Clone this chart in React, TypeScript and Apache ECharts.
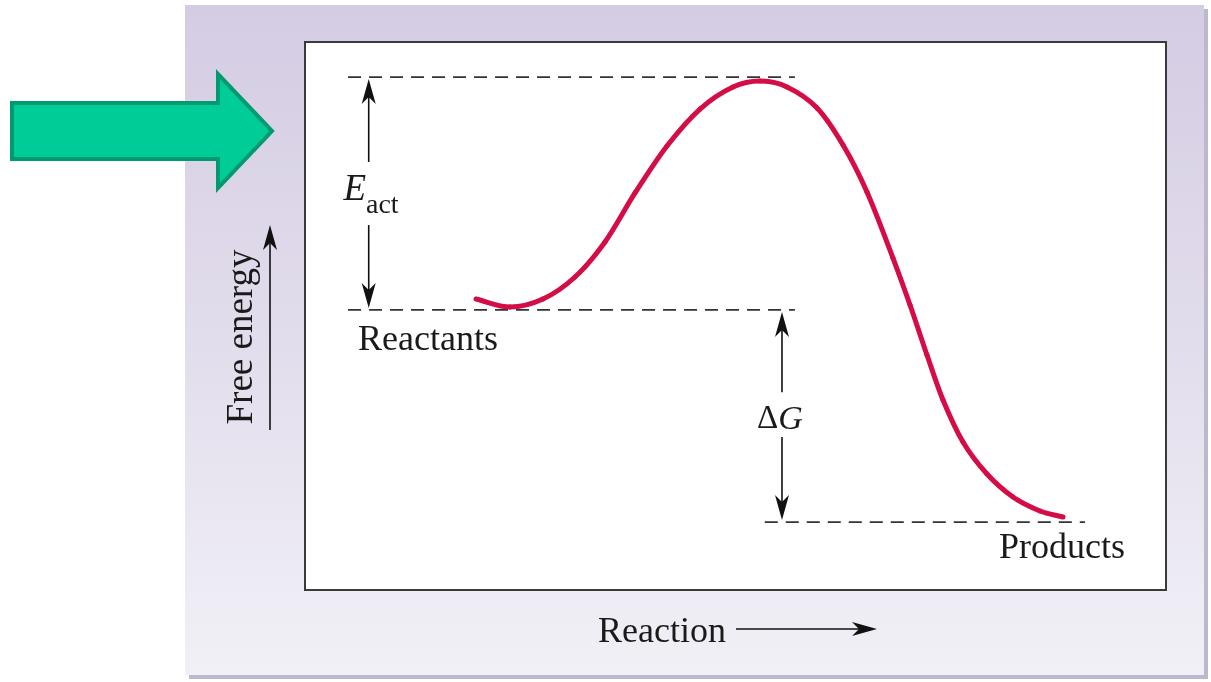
import React, { useEffect, useRef } from 'react';
import * as echarts from 'echarts';

// Reaction coordinate (0–100 across the plot box) and free energy (0–100, bottom to top of box)
const reactionProgress = [19.86, 23.81, 27.64, 31.36, 34.84, 38.33, 42.04, 45.88, 49.71, 52.85, 55.98, 59.47, 62.49, 65.27, 68.29, 70.27, 72.24, 74.1, 76.42, 79.21, 82.23, 85.37, 88.04];
const freeEnergy = [53.1, 51.64, 53.1, 57.12, 63.5, 72.45, 81.02, 87.77, 91.79, 92.88, 91.79, 87.96, 81.2, 72.63, 60.58, 52.01, 42.88, 34.67, 27.01, 21.17, 16.97, 14.42, 13.32];

// Dashed energy levels
const levelNames = ['Transition state', 'Reactants', 'Products'];
const levelEnergy = [93.6, 51.1, 12.4];
const levelFrom = [5.0, 5.0, 53.4];
const levelTo = [56.9, 56.9, 90.6];

// Measurement arrows (split around their labels): [x, from, to]
const arrowX = [7.4, 7.4, 55.4, 55.4];
const arrowFrom = [78.1, 66.6, 36.1, 27.9];
const arrowTo = [93.6, 51.1, 51.1, 12.4];

// Texts
const yAxisTitle = 'Free energy';
const xAxisTitle = 'Reaction';
const reactantsLabel = 'Reactants';
const productsLabel = 'Products';

const SERIF = "'Liberation Serif', 'Times New Roman', serif";
const INK = '#1a1a1a';
const CURVE = '#d40d47';

function arrowHead(tip: number[], dir: number[], len: number, wid: number) {
  const [dx, dy] = dir;
  const nx = -dy, ny = dx;
  const bx = tip[0] - dx * len, by = tip[1] - dy * len;
  const notch = [tip[0] - dx * len * 0.72, tip[1] - dy * len * 0.72];
  return [
    [tip[0], tip[1]],
    [bx + (nx * wid) / 2, by + (ny * wid) / 2],
    notch,
    [bx - (nx * wid) / 2, by - (ny * wid) / 2],
  ];
}

export default function App() {
  const ref = useRef<HTMLDivElement>(null);
  useEffect(() => {
    const chart = echarts.init(ref.current!, null, { renderer: 'svg' });
    const curve = reactionProgress.map((x, i) => [x, freeEnergy[i]]);
    const arrows = arrowX.map((x, i) => [x, arrowFrom[i], arrowTo[i]]);
    const n = curve.length;

    const levelSeries = levelNames.map((name, i) => ({
      name,
      type: 'line',
      data: [
        [levelFrom[i], levelEnergy[i]],
        [levelTo[i], levelEnergy[i]],
      ],
      symbol: 'none',
      silent: true,
      z: 2,
      lineStyle: { color: '#333', width: 1.8, type: [13, 8] },
    }));

    chart.setOption({
      animation: false,
      grid: {
        left: 305,
        top: 42,
        width: 861,
        height: 548,
        show: true,
        backgroundColor: '#ffffff',
        borderColor: '#3a3a3a',
        borderWidth: 2,
      },
      xAxis: { type: 'value', min: 0, max: 100, show: false },
      yAxis: { type: 'value', min: 0, max: 100, show: false },
      series: [
        ...levelSeries,
        {
          name: 'Free energy',
          type: 'custom',
          data: curve,
          encode: { x: 0, y: 1 },
          z: 3,
          renderItem: (params: any, api: any) => {
            const i = params.dataIndexInside;
            if (i >= n - 1) return null;
            const pt = (k: number) => api.coord([api.value(0, k), api.value(1, k)]);
            const slope = (k: number) => {
              const a = pt(Math.max(0, k - 1));
              const b = pt(Math.min(n - 1, k + 1));
              return (b[1] - a[1]) / (b[0] - a[0]);
            };
            const p1 = pt(i), p2 = pt(i + 1);
            const h = (p2[0] - p1[0]) / 3;
            const m1 = slope(i), m2 = slope(i + 1);
            return {
              type: 'bezierCurve',
              shape: {
                x1: p1[0],
                y1: p1[1],
                x2: p2[0],
                y2: p2[1],
                cpx1: p1[0] + h,
                cpy1: p1[1] + m1 * h,
                cpx2: p2[0] - h,
                cpy2: p2[1] - m2 * h,
              },
              style: { stroke: CURVE, lineWidth: 5, fill: null, lineCap: 'round' },
            };
          },
        },
        {
          name: 'Arrows',
          type: 'custom',
          data: arrows,
          encode: { x: 0, y: [1, 2] },
          z: 4,
          renderItem: (params: any, api: any) => {
            const x = api.value(0);
            const p0 = api.coord([x, api.value(1)]);
            const p1 = api.coord([x, api.value(2)]);
            const dir = Math.sign(p1[1] - p0[1]);
            const tip = [p1[0], p1[1] - dir * 2];
            return {
              type: 'group',
              children: [
                {
                  type: 'line',
                  shape: { x1: p0[0], y1: p0[1], x2: tip[0], y2: tip[1] - dir * 12 },
                  style: { stroke: '#111', lineWidth: 1.6 },
                },
                {
                  type: 'polygon',
                  shape: { points: arrowHead(tip, [0, dir], 25, 14) },
                  style: { fill: '#111' },
                },
              ],
            };
          },
        },
      ],
      graphic: [
        { type: 'rect', z: -30, shape: { x: 189, y: 9, width: 1019, height: 670 }, style: { fill: '#bdb8cc' } },
        {
          type: 'rect',
          z: -29,
          shape: { x: 185, y: 5, width: 1019, height: 670 },
          style: {
            fill: new echarts.graphic.LinearGradient(0, 0, 0, 1, [
              { offset: 0, color: '#d4cce3' },
              { offset: 0.5, color: '#e2ddec' },
              { offset: 1, color: '#f1f0f6' },
            ]),
          },
        },
        {
          type: 'polygon',
          z: 10,
          shape: {
            points: [
              [12, 103],
              [218, 103],
              [218, 74],
              [272, 131],
              [218, 188],
              [218, 159],
              [12, 159],
            ],
          },
          style: { fill: '#00cc98', stroke: '#009a70', lineWidth: 4, lineJoin: 'miter' },
        },
        // Free energy axis title + arrow
        {
          type: 'text',
          z: 10,
          x: 239,
          y: 337,
          rotation: Math.PI / 2,
          style: { text: yAxisTitle, font: `37px ${SERIF}`, fill: INK, align: 'center', verticalAlign: 'middle' },
        },
        { type: 'line', z: 10, shape: { x1: 270, y1: 430, x2: 270, y2: 240 }, style: { stroke: '#111', lineWidth: 1.6 } },
        { type: 'polygon', z: 10, shape: { points: arrowHead([270, 225], [0, -1], 25, 14) }, style: { fill: '#111' } },
        // Reaction axis title + arrow
        {
          type: 'text',
          z: 10,
          x: 598,
          y: 630,
          style: { text: xAxisTitle, font: `36px ${SERIF}`, fill: INK, align: 'left', verticalAlign: 'middle' },
        },
        { type: 'line', z: 10, shape: { x1: 736, y1: 629, x2: 862, y2: 629 }, style: { stroke: '#111', lineWidth: 1.6 } },
        { type: 'polygon', z: 10, shape: { points: arrowHead([877, 629], [1, 0], 25, 14) }, style: { fill: '#111' } },
        // Level labels
        {
          type: 'text',
          z: 10,
          x: 358,
          y: 338,
          style: { text: reactantsLabel, font: `36px ${SERIF}`, fill: INK, align: 'left', verticalAlign: 'middle' },
        },
        {
          type: 'text',
          z: 10,
          x: 999,
          y: 546,
          style: { text: productsLabel, font: `36px ${SERIF}`, fill: INK, align: 'left', verticalAlign: 'middle' },
        },
        // E_act
        {
          type: 'text',
          z: 10,
          x: 366,
          y: 187,
          style: { text: 'E', font: `italic 37px ${SERIF}`, fill: INK, align: 'right', verticalAlign: 'middle' },
        },
        {
          type: 'text',
          z: 10,
          x: 366,
          y: 203,
          style: { text: 'act', font: `28px ${SERIF}`, fill: INK, align: 'left', verticalAlign: 'middle' },
        },
        // ΔG
        {
          type: 'text',
          z: 10,
          x: 780,
          y: 417,
          style: {
            text: '{d|Δ}{g|G}',
            align: 'center',
            verticalAlign: 'middle',
            rich: {
              d: { font: `33px ${SERIF}`, fill: INK },
              g: { font: `italic 34px ${SERIF}`, fill: INK },
            },
          },
        },
      ],
    });
    return () => chart.dispose();
  }, []);
  return <div ref={ref} style={{ position: 'fixed', left: 0, top: 0, width: 1211, height: 682 }} />;
}
